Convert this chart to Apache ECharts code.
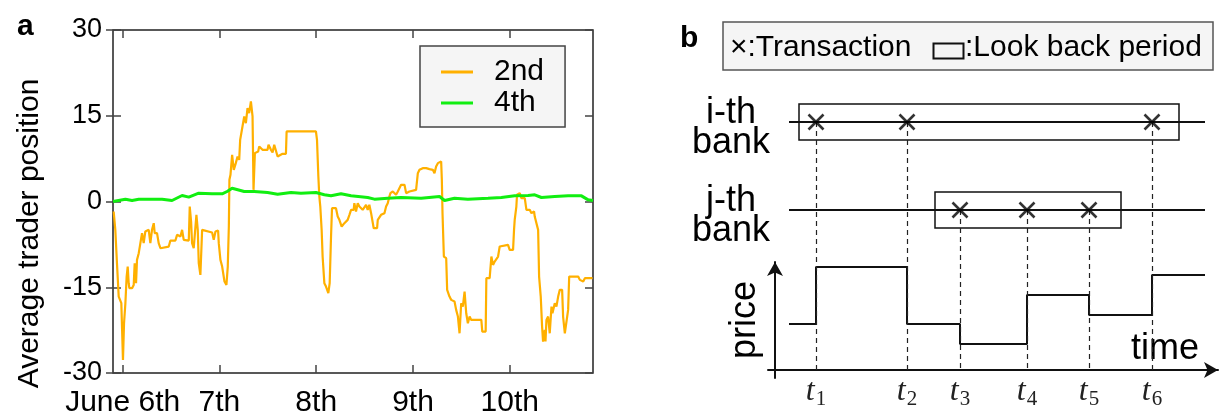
<!DOCTYPE html>
<html>
<head>
<meta charset="utf-8">
<script src="https://cdn.jsdelivr.net/npm/echarts@6/dist/echarts.min.js"></script>
<style>
html, body { margin: 0; padding: 0; background: #fff; }
#chart { width: 1220px; height: 413px; }
</style>
</head>
<body>
<div id="chart"></div>
<script>
// ---- panel a: average trader position, x = day of June ----
var dayTicks = [6, 7, 8, 9, 10];
var dayLabels = ['June 6th', '7th', '8th', '9th', '10th'];

var secondDay = [5.907, 5.924, 5.941, 5.959, 5.986, 6.003, 6.014, 6.028, 6.041, 6.052, 6.062, 6.069, 6.097, 6.114, 6.124, 6.138, 6.148, 6.166, 6.183, 6.200,
  6.217, 6.234, 6.269, 6.286, 6.303, 6.321, 6.331, 6.355, 6.372, 6.390, 6.476, 6.493, 6.545, 6.562, 6.597, 6.614, 6.631, 6.683, 6.693, 6.707,
  6.717, 6.734, 6.752, 6.762, 6.776, 6.786, 6.803, 6.821, 6.838, 6.924, 6.941, 6.959, 6.986, 6.993, 7.010, 7.028, 7.052, 7.072, 7.086, 7.097,
  7.103, 7.114, 7.131, 7.148, 7.169, 7.187, 7.204, 7.214, 7.238, 7.256, 7.273, 7.290, 7.307, 7.325, 7.342, 7.352, 7.359, 7.366, 7.400, 7.411,
  7.445, 7.497, 7.507, 7.532, 7.549, 7.566, 7.583, 7.601, 7.652, 7.687, 7.694, 7.997, 8.008, 8.022, 8.032, 8.042, 8.056, 8.066, 8.084, 8.101,
  8.125, 8.139, 8.153, 8.163, 8.180, 8.204, 8.222, 8.239, 8.263, 8.291, 8.325, 8.343, 8.360, 8.387, 8.394, 8.411, 8.429, 8.446, 8.463, 8.480,
  8.498, 8.515, 8.532, 8.549, 8.567, 8.584, 8.594, 8.629, 8.636, 8.653, 8.670, 8.705, 8.722, 8.739, 8.756, 8.767, 8.791, 8.825, 8.843, 8.860,
  8.877, 8.912, 8.929, 8.963, 8.981, 9.032, 9.050, 9.067, 9.101, 9.136, 9.170, 9.205, 9.222, 9.239, 9.257, 9.274, 9.291, 9.298, 9.305, 9.319,
  9.343, 9.353, 9.377, 9.395, 9.429, 9.446, 9.464, 9.481, 9.498, 9.515, 9.533, 9.550, 9.567, 9.585, 9.602, 9.706, 9.716, 9.751, 9.758, 9.792,
  9.810, 9.827, 9.844, 9.861, 9.879, 9.896, 9.913, 9.982, 9.999, 10.034, 10.044, 10.051, 10.068, 10.075, 10.103, 10.120, 10.155, 10.165, 10.172, 10.206,
  10.224, 10.251, 10.258, 10.275, 10.293, 10.303, 10.320, 10.334, 10.344, 10.362, 10.369, 10.379, 10.396, 10.413, 10.431, 10.441, 10.465, 10.482, 10.500, 10.517,
  10.541, 10.551, 10.569, 10.586, 10.603, 10.614, 10.707, 10.724, 10.759, 10.776, 10.855];
var secondPos = [-1.75, -4.96, -10.79, -16.63, -17.79, -27.71, -21.30, -17.79, -13.13, -11.38, -14.29, -15.17, -15.17, -14.59, -10.79, -14.29, -10.21, -9.04, -7.29, -5.54,
  -7.29, -5.25, -4.96, -7.29, -4.96, -3.79, -5.54, -5.54, -7.29, -8.17, -7.88, -6.83, -6.83, -5.83, -6.13, -4.96, -6.71, -6.83, -0.88, -3.50,
  -7.29, -8.17, -8.17, -2.33, -4.96, -10.79, -12.84, -4.96, -5.25, -5.43, -6.71, -5.25, -5.08, -7.29, -10.21, -11.38, -14.00, -14.59, -11.38, -4.38,
  3.79, 4.67, 8.17, 5.54, 6.71, 7.88, 7.29, 10.79, 13.13, 14.88, 13.71, 16.34, 15.46, 17.50, 14.88, 2.04, 2.04, 8.46, 8.75, 9.63,
  9.04, 9.04, 9.92, 9.04, 8.58, 9.92, 10.21, 7.88, 8.34, 8.34, 12.25, 12.25, 10.79, 4.38, 0.88, -0.88, -4.96, -9.63, -14.29, -14.88,
  -16.04, -14.29, -6.13, -1.17, -1.46, -1.17, -2.63, -3.21, -4.38, -3.79, -3.21, -2.33, -1.46, -1.46, -0.29, -1.75, -0.29, -0.88, -0.58, -1.46,
  -1.17, -0.58, -1.46, -0.58, -2.04, -1.75, -4.67, -4.67, -3.21, -2.92, -2.33, -2.04, -0.88, -0.29, 0.88, 1.46, 1.75, 1.17, 1.75, 1.46,
  2.92, 2.92, 1.46, 1.75, 2.04, 2.04, 4.96, 5.54, 5.83, 5.83, 5.66, 5.54, 4.96, 6.13, 6.71, 7.00, 7.00, 3.79, -2.04, -9.63,
  -9.92, -15.46, -16.63, -17.21, -17.50, -18.96, -20.13, -23.05, -17.79, -18.38, -15.75, -19.55, -21.30, -20.13, -20.71, -20.71, -22.75, -22.75, -13.42, -13.42,
  -9.63, -11.09, -10.50, -10.21, -9.63, -7.88, -7.58, -7.58, -8.46, -8.46, -4.96, -3.21, -0.88, 1.17, 1.46, 0.58, 0.58, 0.29, -1.46, -1.46,
  -2.04, -1.75, -2.63, -2.63, -4.96, -13.13, -16.63, -21.88, -24.50, -22.46, -24.50, -20.71, -20.13, -23.05, -18.38, -19.55, -17.79, -18.38, -16.63, -15.46,
  -15.46, -20.13, -23.05, -23.34, -18.96, -13.13, -13.13, -13.71, -14.00, -13.42, -13.42];

var fourthDay = [5.9, 6.028, 6.097, 6.166, 6.303, 6.407, 6.510, 6.614, 6.683, 6.786, 6.924, 7.028, 7.079, 7.131, 7.256, 7.359, 7.497, 7.601, 7.739, 7.842,
  7.997, 8.084, 8.153, 8.256, 8.360, 8.532, 8.601, 8.739, 8.877, 9.084, 9.274, 9.326, 9.429, 9.567, 9.775, 9.913, 10.051, 10.189, 10.258, 10.327,
  10.465, 10.603, 10.741, 10.810, 10.86];
var fourthPos = [0.0, 0.41, 0.18, 0.41, 0.41, 0.41, 0.18, 1.05, 0.76, 1.46, 1.34, 1.34, 1.75, 2.33, 1.75, 1.75, 1.58, 1.28, 1.58, 1.46,
  1.58, 1.17, 0.99, 1.34, 0.99, 0.70, 0.41, 0.58, 0.70, 0.58, 0.88, 0.18, 0.58, 0.41, 0.58, 0.70, 0.99, 1.05, 1.17, 0.70,
  0.88, 0.99, 0.99, 0.29, 0.18];

// ---- panel b: schematic of transactions and look back periods ----
var tTimes = [4.8, 13.9, 19.2, 25.9, 32.1, 38.4];
var tSubs = ['1', '2', '3', '4', '5', '6'];
var bankNames = ['i-th', 'j-th'];
var bankLevels = [24.8, 16.0];
var bankTrades = [[0, 1, 5], [2, 3, 4]];   // indices into tTimes
var lookBack = [[3.1, 41.1], [16.7, 35.3]];
var priceLevels = [4.6, 10.3, 4.6, 2.6, 7.5, 5.5, 9.5];
var timeStart = 2.1, timeEnd = 43.7;

function zip(xs, ys) {
  return xs.map(function (x, i) { return [x, ys[i]]; });
}
function nearest(arr, v) {
  var best = 0;
  arr.forEach(function (a, i) { if (Math.abs(a - v) < Math.abs(arr[best] - v)) best = i; });
  return best;
}

var priceData = [[timeStart, priceLevels[0]]];
tTimes.forEach(function (t, i) { priceData.push([t, priceLevels[i + 1]]); });
priceData.push([timeEnd, priceLevels[priceLevels.length - 1]]);

var tradePoints = [];
var dropLines = [];
bankTrades.forEach(function (idx, b) {
  idx.forEach(function (k) {
    tradePoints.push([tTimes[k], bankLevels[b]]);
    dropLines.push([{ coord: [tTimes[k], bankLevels[b]] }, { coord: [tTimes[k], 0] }]);
  });
});

var boxData = lookBack.map(function (r, i) { return [r[0], r[1], bankLevels[i]]; });

var chart = echarts.init(document.getElementById('chart'));
var tick = { color: '#444', width: 1.5 };
var ink = '#111';

var option = {
  animation: false,
  textStyle: { fontFamily: 'Liberation Sans', color: '#000' },
  title: [
    { text: 'a', left: 17, top: 12, padding: 0, textStyle: { fontSize: 30, fontWeight: 'bold', color: '#000', fontFamily: 'Liberation Sans' } },
    { text: 'b', left: 680, top: 24, padding: 0, textStyle: { fontSize: 30, fontWeight: 'bold', color: '#000', fontFamily: 'Liberation Sans' } }
  ],
  legend: {
    data: ['2nd', '4th'],
    orient: 'vertical',
    left: 420, top: 46,
    padding: [11, 21, 9, 21],
    icon: 'rect',
    itemWidth: 32, itemHeight: 3, itemGap: 1,
    backgroundColor: '#f5f5f5', borderColor: '#444', borderWidth: 1.5, borderRadius: 0,
    selectedMode: false,
    textStyle: { fontSize: 30, lineHeight: 30, padding: [0, 0, 0, 16], color: '#000' }
  },
  grid: [
    { left: 113, right: 627, top: 30, bottom: 40, outerBoundsMode: 'none', show: true, borderColor: '#222', borderWidth: 1.5, backgroundColor: 'transparent' },
    { left: 768, width: 450, top: 70, height: 300, outerBoundsMode: 'none' },
    { left: 775, width: 443, top: 262, height: 116, outerBoundsMode: 'none' }
  ],
  xAxis: [
    { gridIndex: 0, type: 'value', min: 5.9, max: 10.86, position: 'bottom',
      axisLine: { show: false, onZero: false }, splitLine: { show: false },
      axisTick: { inside: true, length: 8, customValues: dayTicks, lineStyle: tick },
      axisLabel: { customValues: dayTicks, margin: 15, fontSize: 30, color: '#000',
        formatter: function (v) { return dayLabels[nearest(dayTicks, v)]; } } },
    { gridIndex: 0, type: 'value', min: 5.9, max: 10.86, position: 'top',
      axisLine: { show: false, onZero: false }, splitLine: { show: false },
      axisTick: { inside: true, length: 8, customValues: dayTicks, lineStyle: tick },
      axisLabel: { show: false } },
    { gridIndex: 1, type: 'value', min: 0, max: 45, splitLine: { show: false },
      axisLine: { show: true, onZero: false, symbol: ['none', 'arrow'], symbolSize: [12, 14], lineStyle: { color: ink, width: 2 } },
      axisTick: { show: false },
      axisLabel: { customValues: tTimes, margin: 4, color: '#222',
        formatter: function (v) { return '{t|t}{s|' + tSubs[nearest(tTimes, v)] + '}'; },
        rich: {
          t: { fontFamily: 'Liberation Serif', fontStyle: 'italic', fontSize: 32, color: '#222' },
          s: { fontFamily: 'Liberation Serif', fontSize: 21, color: '#222', padding: [15, 0, 0, 1] }
        } },
      name: 'time', nameLocation: 'end', nameGap: -87,
      nameTextStyle: { fontSize: 36, color: '#000', align: 'left', verticalAlign: 'bottom', padding: [0, 0, 3, 0] } },
    { gridIndex: 2, type: 'value', min: 0, max: 1, show: false }
  ],
  yAxis: [
    { gridIndex: 0, type: 'value', min: -30, max: 30, interval: 15, position: 'left',
      axisLine: { show: false, onZero: false }, splitLine: { show: false },
      axisTick: { inside: true, length: 8, lineStyle: tick },
      axisLabel: { fontSize: 27, margin: 11, color: '#000' },
      name: 'Average trader position', nameLocation: 'middle', nameGap: 68, nameRotate: 90,
      nameTextStyle: { fontSize: 30, color: '#000', padding: [0, 64, 0, 0] } },
    { gridIndex: 0, type: 'value', min: -30, max: 30, interval: 15, position: 'left',
      axisLine: { show: false, onZero: false }, splitLine: { show: false },
      axisTick: { inside: false, length: 7, lineStyle: tick }, axisLabel: { show: false } },
    { gridIndex: 0, type: 'value', min: -30, max: 30, interval: 15, position: 'right',
      axisLine: { show: false, onZero: false }, splitLine: { show: false },
      axisTick: { inside: true, length: 8, lineStyle: tick }, axisLabel: { show: false } },
    { gridIndex: 1, type: 'value', min: 0, max: 30,
      axisLine: { show: false, onZero: false }, axisTick: { show: false }, splitLine: { show: false },
      axisLabel: { customValues: bankLevels, align: 'center', margin: 37,
        formatter: function (v) { return '{g| }\n{l|' + bankNames[nearest(bankLevels, v)] + '}\n{l|bank}'; },
        rich: {
          g: { fontSize: 1, lineHeight: 12 },
          l: { fontSize: 36, lineHeight: 30, color: '#000', fontFamily: 'Liberation Sans' }
        } } },
    { gridIndex: 2, type: 'value', min: 0, max: 1,
      axisLine: { show: true, onZero: false, symbol: ['none', 'arrow'], symbolSize: [12, 14], lineStyle: { color: ink, width: 2 } },
      axisTick: { show: false }, axisLabel: { show: false }, splitLine: { show: false },
      name: 'price', nameLocation: 'middle', nameRotate: 90, nameGap: 12,
      nameTextStyle: { fontSize: 36, color: '#000' } }
  ],
  graphic: [
    { type: 'rect', shape: { x: 723, y: 22, width: 490, height: 48 }, style: { fill: '#f5f5f5', stroke: '#555', lineWidth: 1.5 } },
    { type: 'text', x: 730, y: 48, style: { text: '\u00d7:Transaction', fontSize: 30, fontFamily: 'Liberation Sans', fill: '#000', verticalAlign: 'middle' } },
    { type: 'rect', shape: { x: 933.5, y: 43.5, width: 30, height: 15 }, style: { fill: 'none', stroke: ink, lineWidth: 2 } },
    { type: 'text', x: 965, y: 48, style: { text: ':Look back period', fontSize: 30, fontFamily: 'Liberation Sans', fill: '#000', verticalAlign: 'middle' } }
  ],
  series: [
    { name: '2nd', type: 'line', xAxisIndex: 0, yAxisIndex: 0, data: zip(secondDay, secondPos),
      symbol: 'none', lineStyle: { color: '#ffb000', width: 2.2 }, itemStyle: { color: '#ffb000' } },
    { name: '4th', type: 'line', xAxisIndex: 0, yAxisIndex: 0, data: zip(fourthDay, fourthPos),
      symbol: 'none', lineStyle: { color: '#11ee11', width: 3 }, itemStyle: { color: '#11ee11' } },
    { type: 'line', xAxisIndex: 2, yAxisIndex: 3, symbol: 'none', silent: true,
      data: [[timeStart, bankLevels[0]], [timeEnd, bankLevels[0]]], lineStyle: { color: ink, width: 2 } },
    { type: 'line', xAxisIndex: 2, yAxisIndex: 3, symbol: 'none', silent: true,
      data: [[timeStart, bankLevels[1]], [timeEnd, bankLevels[1]]], lineStyle: { color: ink, width: 2 } },
    { type: 'custom', xAxisIndex: 2, yAxisIndex: 3, silent: true, data: boxData,
      renderItem: function (params, api) {
        var a = api.coord([api.value(0), api.value(2) + 1.8]);
        var b = api.coord([api.value(1), api.value(2) - 1.8]);
        return { type: 'rect', shape: { x: a[0], y: a[1], width: b[0] - a[0], height: b[1] - a[1] },
          style: { fill: 'none', stroke: ink, lineWidth: 1.5 } };
      } },
    { type: 'line', step: 'end', xAxisIndex: 2, yAxisIndex: 3, symbol: 'none', silent: true,
      data: priceData, lineStyle: { color: ink, width: 2 } },
    { type: 'scatter', xAxisIndex: 2, yAxisIndex: 3, silent: true, data: tradePoints, z: 5,
      symbol: 'path://M0,0L10,10M10,0L0,10', symbolSize: 15,
      itemStyle: { color: 'rgba(0,0,0,0)', borderColor: '#000', borderWidth: 2.6 },
      markLine: { silent: true, symbol: 'none', label: { show: false },
        lineStyle: { color: '#222', width: 1.2, type: [5, 4] }, data: dropLines } }
  ]
};

chart.setOption(option);
</script>
</body>
</html>
